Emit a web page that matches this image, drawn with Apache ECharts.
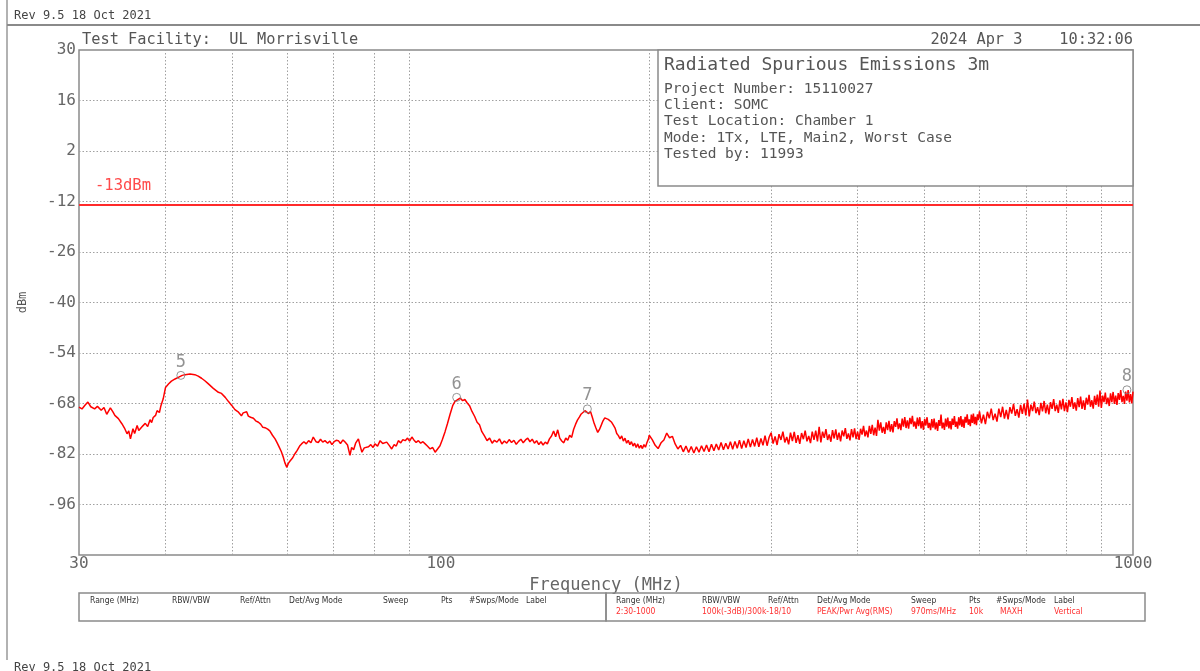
<!DOCTYPE html>
<html><head><meta charset="utf-8">
<script src="https://cdn.jsdelivr.net/npm/echarts@6/dist/echarts.min.js"></script>
<style>html,body{margin:0;padding:0;background:#fff}#chart{width:1200px;height:671px}</style>
</head><body><div id="chart"></div>
<script>
// ---- trace readings [MHz, dBm] ----
const sweep30to60 = [[30.0,-69.0],[30.3,-69.5],[30.6,-68.5],[30.9,-67.6],[31.2,-68.9],[31.6,-69.5],[31.9,-68.8],[32.3,-69.9],[32.6,-69.1],[32.9,-71.0],[33.3,-69.2],[33.6,-70.4],[33.8,-71.3],[34.2,-72.2],[34.6,-73.6],[34.9,-74.8],[35.2,-76.4],[35.4,-75.6],[35.6,-77.8],[35.9,-75.0],[36.1,-76.3],[36.4,-74.1],[36.6,-75.5],[36.8,-75.9],[37.1,-74.2],[37.4,-73.5],[37.7,-74.4],[38.0,-72.5],[38.2,-73.3],[38.4,-71.9],[38.7,-71.3],[38.9,-70.0],[39.2,-70.5],[39.4,-68.6],[39.7,-66.7],[40.0,-63.6],[40.4,-62.6],[40.8,-61.8],[41.3,-61.2],[41.8,-60.7],[42.3,-60.2],[42.7,-60.0],[43.4,-59.8],[44.1,-60.0],[44.6,-60.4],[45.1,-61.0],[45.6,-61.7],[46.1,-62.5],[46.9,-63.8],[47.7,-64.9],[48.2,-65.2],[48.8,-66.3],[49.3,-67.4],[49.9,-68.6],[50.4,-69.7],[51.0,-70.4],[51.5,-71.4],[51.8,-70.6],[52.1,-71.0],[52.4,-70.3],[52.7,-71.5],[53.1,-71.8],[53.6,-72.1],[54.0,-72.8],[54.5,-73.2],[54.9,-73.7],[55.3,-74.6],[55.7,-74.7],[56.2,-75.1],[56.6,-75.6],[57.1,-76.8],[57.6,-77.8],[58.0,-78.9],[58.4,-80.1],[58.8,-81.3],[59.2,-82.9],[59.5,-84.4],[59.9,-85.7],[60.2,-84.6]];
const sweep60to120 = [[60.5,-84.0],[61.0,-83.2],[61.5,-82.0],[62.0,-81.0],[62.5,-79.8],[62.9,-79.2],[63.4,-78.6],[63.9,-79.2],[64.4,-78.3],[64.9,-78.9],[65.4,-77.3],[66.0,-78.6],[66.5,-78.8],[67.0,-77.9],[67.5,-78.7],[68.0,-78.3],[68.6,-79.0],[69.1,-78.4],[69.6,-79.4],[70.1,-78.6],[70.6,-78.2],[71.1,-78.3],[71.6,-79.1],[72.2,-78.1],[72.7,-78.7],[73.3,-79.5],[73.9,-82.4],[74.3,-80.2],[74.8,-80.8],[75.3,-79.0],[76.0,-77.8],[76.4,-79.6],[76.9,-81.5],[77.5,-80.3],[78.0,-80.8],[78.6,-80.0],[79.2,-79.4],[79.8,-80.2],[80.3,-79.2],[81.0,-79.8],[81.7,-78.3],[82.4,-79.1],[83.5,-78.7],[84.2,-79.6],[84.9,-80.6],[85.6,-79.4],[86.2,-79.8],[86.8,-78.3],[87.5,-78.9],[88.1,-78.0],[88.8,-78.3],[89.5,-77.6],[90.1,-78.4],[90.8,-77.3],[91.4,-78.1],[92.1,-78.8],[92.8,-78.3],[93.5,-79.0],[94.2,-78.6],[94.9,-79.2],[95.6,-79.8],[96.5,-80.6],[97.3,-80.2],[98.1,-81.5],[98.9,-80.6],[99.7,-79.7],[100.5,-78.0],[101.4,-75.8],[102.2,-73.6],[103.1,-71.0],[104.0,-68.6],[104.8,-67.4],[105.6,-67.0],[106.6,-66.5],[107.5,-67.2],[108.3,-66.9],[109.1,-67.8],[110.0,-68.6],[110.9,-70.2],[111.9,-71.6],[112.8,-73.2],[113.7,-73.9],[114.6,-75.8],[115.6,-77.0],[116.6,-78.3],[117.6,-77.6],[118.6,-79.0],[119.5,-78.2]];
const sweep120to200 = [[120.5,-78.7],[121.5,-77.8],[122.5,-79.2],[123.5,-78.4],[124.5,-79.0],[125.5,-78.0],[126.5,-78.8],[127.5,-78.2],[128.5,-79.3],[129.5,-78.5],[130.5,-77.9],[131.5,-78.9],[132.5,-78.1],[133.5,-77.6],[134.5,-78.6],[135.5,-77.9],[136.5,-79.0],[137.5,-78.3],[138.5,-79.4],[139.5,-78.6],[140.5,-79.5],[141.5,-78.7],[142.5,-79.2],[143.5,-77.8],[144.5,-77.0],[145.5,-75.6],[146.5,-77.2],[147.5,-75.3],[148.5,-77.6],[149.5,-78.4],[150.5,-78.9],[151.5,-77.6],[152.5,-78.2],[153.5,-76.8],[154.5,-77.4],[155.5,-75.2],[156.5,-73.8],[157.5,-72.6],[158.5,-71.8],[159.5,-70.9],[160.5,-71.3],[161.5,-70.0],[162.5,-69.6],[163.5,-70.8],[164.5,-70.2],[165.5,-71.8],[166.5,-73.5],[167.5,-74.8],[168.5,-76.0],[169.5,-75.2],[170.5,-74.0],[171.5,-72.8],[172.5,-72.0],[173.5,-71.6],[174.5,-72.4],[175.5,-72.0],[176.5,-73.2],[177.5,-74.0],[178.5,-74.8],[179.5,-76.3],[180.5,-76.9],[181.5,-77.8],[182.5,-77.0],[183.5,-78.4],[184.5,-77.6],[185.5,-79.0],[186.5,-78.2],[187.5,-79.4],[188.5,-78.6],[189.5,-79.8],[190.5,-79.0],[191.5,-80.2],[192.5,-79.2],[193.5,-80.4],[194.5,-79.6],[195.5,-80.5],[196.5,-79.4],[197.5,-80.1],[198.5,-78.8],[199.5,-77.8]];
const sweep200to300 = [[200,-76.8],[202,-78.0],[204,-79.6],[206,-80.5],[208,-78.9],[210,-78.1],[212,-76.2],[214,-77.5],[216,-77.1],[218,-79.2],[220,-80.6],[222,-79.6],[224,-81.4],[226,-79.8],[228,-81.6],[230,-79.9],[232,-81.7],[234,-80.0],[236,-81.5],[238,-79.7],[240,-81.3],[242,-79.5],[244,-81.4],[246,-79.3],[248,-81.1],[250,-79.2],[252,-80.9],[254,-78.8],[256,-80.8],[258,-79.0],[260,-80.6],[262,-78.6],[264,-80.7],[266,-78.5],[268,-80.4],[270,-78.2],[272,-80.5],[274,-78.3],[276,-80.2],[278,-77.8],[280,-80.1],[282,-78.0],[284,-79.9],[286,-77.5],[288,-80.0],[290,-77.7],[292,-79.6],[294,-76.9],[296,-79.7],[298,-77.4]];
const sweep300to600 = [[300,-76.1],[302,-79.1],[304,-77.1],[306,-79.5],[308,-76.5],[310,-78.1],[312,-75.8],[314,-78.8],[316,-77.3],[318,-79.3],[320,-76.1],[322,-78.4],[324,-75.9],[326,-78.9],[328,-76.8],[330,-79.2],[332,-76.2],[334,-77.9],[336,-75.5],[338,-78.5],[340,-77.0],[342,-79.0],[344,-75.8],[346,-78.1],[348,-75.5],[350,-78.5],[352,-74.5],[354,-78.8],[356,-75.8],[358,-77.5],[360,-75.1],[362,-78.1],[364,-76.6],[366,-78.6],[368,-75.4],[370,-77.7],[372,-75.2],[374,-78.1],[376,-76.1],[378,-78.5],[380,-75.5],[382,-77.1],[384,-74.8],[386,-77.8],[388,-76.3],[390,-78.2],[392,-75.1],[394,-77.4],[396,-74.9],[398,-77.9],[400,-75.8],[402,-78.1],[404,-75.0],[406,-76.6],[408,-74.2],[410,-77.1],[412,-75.5],[414,-77.4],[416,-74.2],[418,-76.4],[420,-73.9],[422,-76.8],[424,-74.7],[426,-77.0],[428,-72.5],[430,-75.5],[432,-73.2],[434,-76.1],[436,-74.5],[438,-76.4],[440,-73.2],[442,-75.4],[444,-72.8],[446,-75.8],[448,-73.7],[450,-76.0],[452,-72.9],[454,-74.5],[456,-72.1],[458,-75.1],[460,-73.5],[462,-75.4],[464,-72.2],[466,-74.4],[468,-71.8],[470,-74.8],[472,-72.7],[474,-75.0],[476,-72.0],[478,-73.7],[480,-71.4],[482,-74.4],[484,-73.0],[486,-75.0],[488,-71.9],[490,-74.3],[492,-71.8],[494,-74.9],[496,-72.9],[498,-75.3],[500,-72.3],[502,-74.1],[504,-71.8],[506,-74.8],[508,-73.4],[510,-75.4],[512,-72.3],[514,-74.7],[516,-72.2],[518,-75.2],[520,-73.2],[522,-75.6],[524,-72.6],[526,-74.2],[528,-71.1],[530,-74.9],[532,-73.3],[534,-75.3],[536,-72.2],[538,-74.4],[540,-71.9],[542,-74.9],[544,-72.9],[546,-75.2],[548,-72.2],[550,-73.9],[552,-71.5],[554,-74.5],[556,-73.0],[558,-75.0],[560,-71.8],[562,-74.1],[564,-71.5],[566,-74.5],[568,-72.4],[570,-74.8],[572,-71.7],[574,-73.3],[576,-71.0],[578,-73.9],[580,-72.4],[582,-74.3],[584,-71.1],[586,-73.4],[588,-70.8],[590,-73.7],[592,-71.7],[594,-74.0],[596,-71.0],[598,-72.6]];
const sweep600to1000 = [[600,-70.2],[604,-73.5],[608,-71.1],[612,-73.7],[616,-70.3],[620,-72.1],[624,-69.4],[628,-72.6],[632,-70.8],[636,-73.0],[640,-69.4],[644,-71.8],[648,-68.9],[652,-72.2],[656,-69.8],[660,-72.4],[664,-69.0],[668,-70.8],[672,-68.1],[676,-71.4],[680,-69.6],[684,-71.9],[688,-68.4],[692,-70.9],[696,-68.0],[700,-71.3],[704,-66.9],[708,-71.6],[712,-68.3],[716,-70.1],[720,-67.5],[724,-70.7],[728,-69.0],[732,-71.2],[736,-67.8],[740,-70.2],[744,-67.3],[748,-70.7],[752,-68.3],[756,-71.0],[760,-67.6],[764,-69.5],[768,-66.8],[772,-70.1],[776,-68.3],[780,-70.6],[784,-67.1],[788,-69.6],[792,-66.7],[796,-70.1],[800,-67.7],[804,-70.4],[808,-67.0],[812,-68.9],[816,-66.2],[820,-69.5],[824,-67.7],[828,-70.0],[832,-66.5],[836,-69.0],[840,-66.1],[844,-69.5],[848,-67.1],[852,-69.8],[856,-66.4],[860,-68.3],[864,-65.6],[868,-68.9],[872,-67.1],[876,-69.4],[880,-65.9],[884,-68.4],[888,-65.5],[892,-68.9],[896,-64.4],[900,-69.2],[904,-65.8],[908,-67.6],[912,-65.0],[916,-68.2],[920,-66.4],[924,-68.7],[928,-65.2],[932,-67.6],[936,-64.8],[940,-68.1],[944,-65.8],[948,-68.4],[952,-65.1],[956,-67.0],[960,-64.3],[964,-67.6],[968,-65.9],[972,-68.1],[976,-64.7],[980,-67.2],[984,-64.3],[988,-67.7],[992,-65.4],[996,-68.0],[1000,-64.7]];

// ---- markers ----
const markerFreq = [42.1, 105.4, 162.8, 980];
const markerLevel = [-60.2, -66.3, -69.5, -64.2];
const markerLabel = ['5', '6', '7', '8'];

// ---- limit ----
const limitLevel = -13;
const limitLabel = '-13dBm';

// ---- axes ----
const xMin = 30, xMax = 1000, yMin = -110, yMax = 30;
const xTickValues = [30, 100, 1000];
const xGridValues = [40, 50, 60, 70, 80, 90, 200, 300, 400, 500, 600, 700, 800, 900];
const yTickValues = [30, 16, 2, -12, -26, -40, -54, -68, -82, -96];
const yGridValues = [16, 2, -12, -26, -40, -54, -68, -82, -96];

// ---- texts ----
const revText = 'Rev 9.5 18 Oct 2021';
const facilityText = 'Test Facility:  UL Morrisville';
const dateText = '2024 Apr 3    10:32:06';
const infoTitle = 'Radiated Spurious Emissions 3m';
const infoLines = ['Project Number: 15110027', 'Client: SOMC', 'Test Location: Chamber 1', 'Mode: 1Tx, LTE, Main2, Worst Case', 'Tested by: 11993'];
const tableHeaders = ['Range (MHz)', 'RBW/VBW', 'Ref/Attn', 'Det/Avg Mode', 'Sweep', 'Pts', '#Swps/Mode', 'Label'];
const tableValues = ['2:30-1000', '100k(-3dB)/300k-18/10', '', 'PEAK/Pwr Avg(RMS)', '970ms/MHz', '10k', 'MAXH', 'Vertical'];

const MONO = '"DejaVu Sans Mono", "Liberation Mono", monospace';
const NARROW = '"DejaVu Sans Condensed", "Liberation Sans Narrow", "DejaVu Sans", sans-serif';
const GRAY = '#666';

const trace = [].concat(sweep30to60, sweep60to120, sweep120to200, sweep200to300, sweep300to600, sweep600to1000);
const markers = markerFreq.map((f, i) => [f, markerLevel[i]]);

const leftCols = [90, 172, 240, 289, 383, 441, 469, 526];
const rightCols = [616, 702, 768, 817, 911, 969, 1000, 1054];
const rightHeaderCols = [616, 702, 768, 817, 911, 969, 996, 1054];

const graphics = [];
function txt(x, y, text, font, fill, align) {
  graphics.push({ type: 'text', x: x, y: y, z: 100, silent: true,
    style: { text: text, font: font, fill: fill, textAlign: align || 'left', textVerticalAlign: 'middle' } });
}
function rect(x, y, w, h, fill, z) {
  graphics.push({ type: 'rect', z: z || 90, silent: true, shape: { x: x, y: y, width: w, height: h },
    style: { fill: fill || 'none', stroke: '#8a8a8a', lineWidth: 1.5 } });
}
function line(x1, y1, x2, y2, w, c) {
  graphics.push({ type: 'line', z: 90, silent: true, shape: { x1: x1, y1: y1, x2: x2, y2: y2 },
    style: { stroke: c || '#8a8a8a', lineWidth: w || 1.5 } });
}

// page frame
line(7, 0, 7, 660, 1.5, '#999');
line(7, 25, 1200, 25, 2, '#8a8a8a');
txt(14, 16, revText, '12px ' + MONO, '#444');
txt(14, 668, revText, '12px ' + MONO, '#444');
// title row
txt(82, 40, facilityText, '15.3px ' + MONO, '#555');
txt(1133, 40, dateText, '15.3px ' + MONO, '#555', 'right');
// info box
rect(658, 50, 475, 136, '#fff', 95);
txt(664, 65, infoTitle, '18px ' + MONO, '#555');
infoLines.forEach((s, i) => txt(664, 89 + i * 16.3, s, '14.5px ' + MONO, '#555'));
// limit label
txt(95, 186, limitLabel, '15.5px ' + MONO, '#ff4a4a');
// table
rect(79, 593, 527, 28);
rect(606, 593, 539, 28);
tableHeaders.forEach((s, i) => { txt(leftCols[i], 601, s, '8.5px ' + NARROW, '#333'); txt(rightHeaderCols[i], 601, s, '8.5px ' + NARROW, '#333'); });
tableValues.forEach((s, i) => { if (s) txt(rightCols[i], 612, s, '8.5px ' + NARROW, '#ff3030'); });

const chart = echarts.init(document.getElementById('chart'), null, { renderer: 'canvas' });
chart.setOption({
  animation: false,
  backgroundColor: '#fff',
  tooltip: { show: false },
  grid: { left: 79, right: 67, top: 50, bottom: 116, show: true, borderColor: '#8a8a8a', borderWidth: 1.5, backgroundColor: 'transparent' },
  xAxis: {
    type: 'log', logBase: 10, min: xMin, max: xMax,
    axisLine: { show: false }, axisTick: { show: false }, splitLine: { show: false }, minorTick: { show: false }, minorSplitLine: { show: false },
    axisLabel: { customValues: xTickValues, formatter: v => String(Math.round(v)), color: GRAY, fontSize: 16, fontFamily: MONO, margin: 1, showMinLabel: true, showMaxLabel: true },
    name: 'Frequency (MHz)', nameLocation: 'middle', nameGap: 20,
    nameTextStyle: { color: GRAY, fontSize: 17, fontFamily: MONO }
  },
  yAxis: {
    type: 'value', min: yMin, max: yMax,
    axisLine: { show: false }, axisTick: { show: false }, splitLine: { show: false },
    axisLabel: { customValues: yTickValues, color: GRAY, fontSize: 16, fontFamily: MONO, margin: 3 },
    name: 'dBm', nameLocation: 'middle', nameRotate: 90, nameGap: 50,
    nameTextStyle: { color: '#555', fontSize: 12, fontFamily: MONO }
  },
  series: [
    {
      name: 'limit', type: 'line', data: [[xMin, limitLevel], [xMax, limitLevel]], symbol: 'none', silent: true, z: 3,
      lineStyle: { color: '#ff2a2a', width: 2 },
      markLine: {
        silent: true, symbol: 'none', z: 1, animation: false, label: { show: false },
        lineStyle: { color: '#a0a0a0', width: 1, type: [1.5, 2] },
        data: xGridValues.map(v => ({ xAxis: v })).concat(yGridValues.map(v => ({ yAxis: v })))
      }
    },
    {
      name: 'trace', type: 'line', data: trace, symbol: 'none', silent: true, z: 4, sampling: null,
      lineStyle: { color: '#ff0000', width: 1.5 }
    },
    {
      name: 'markers', type: 'scatter', data: markers, symbol: 'circle', symbolSize: 8, silent: true, z: 5,
      itemStyle: { color: 'rgba(255,255,255,0)', borderColor: '#7a7a7a', borderWidth: 1 },
      label: { show: true, position: 'top', distance: 0, formatter: p => markerLabel[p.dataIndex], color: '#777', fontSize: 17, fontFamily: MONO }
    }
  ],
  graphic: { elements: graphics }
});
</script>
</body></html>
